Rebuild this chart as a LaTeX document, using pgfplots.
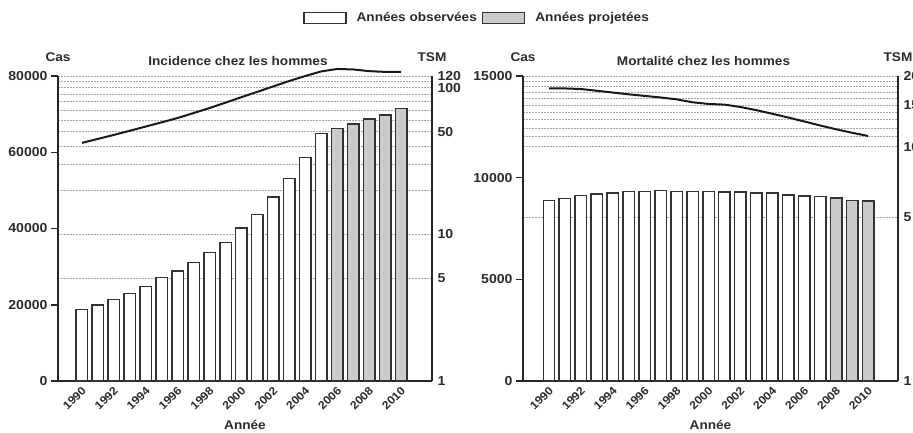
\documentclass[border=0pt]{standalone}
\usepackage{fontspec}
\setmainfont[FakeStretch=1.08]{Liberation Sans}
\usepackage{pgfplots}
\pgfplotsset{compat=1.18}
\definecolor{txt}{HTML}{2B2B2B}
\definecolor{barfill}{HTML}{CBCBCB}
\definecolor{gridc}{HTML}{A8A8A8}
\definecolor{axc}{HTML}{262626}
\newcommand{\lbl}{\bfseries\fontsize{12.6}{14}\selectfont}
\newcommand{\tkl}{\bfseries\fontsize{13}{15}\selectfont}
\newcommand{\xtl}{\bfseries\fontsize{11.3}{13}\selectfont}
\pgfplotsset{
  myBase/.style={scale only axis, height=305pt, clip=false,
    axis line style={line width=2pt, draw=axc},
    scaled y ticks=false, scaled x ticks=false,
    every tick label/.append style={text=txt}},
  myLog/.style={myBase, axis y line*=right, axis x line=none,
    ymajorgrids, yminorgrids,
    major grid style={gridc, dash pattern=on 2pt off 1pt, line width=0.9pt},
    minor grid style={gridc, dash pattern=on 2pt off 1pt, line width=0.9pt},
    ytick style={draw=none}, minor tick style={draw=none},
    yticklabel style={font=\tkl, anchor=west, xshift=2pt}},
  myLin/.style={myBase, axis y line*=left, axis x line*=bottom,
    tick align=outside, major tick length=7pt,
    ytick style={draw=axc, line width=1.5pt}, xtick style={draw=none},
    yticklabel style={font=\tkl},
    xtick={1990,1992,1994,1996,1998,2000,2002,2004,2006,2008,2010},
    xticklabels={1990,1992,1994,1996,1998,2000,2002,2004,2006,2008,2010},
    xticklabel style={font=\xtl, rotate=45, anchor=east, xshift=4.5pt, yshift=-2pt}},
  myObs/.style={ybar, bar width=0.72, bar shift=0pt, fill=white, draw=black!80, line width=1.5pt,
    legend image code/.code={\draw[fill=white, draw=black!80, line width=1.5pt] (0pt,-5.5pt) rectangle (42pt,5.5pt);}},
  myProj/.style={ybar, bar width=0.72, bar shift=0pt, fill=barfill, draw=black!80, line width=1.5pt,
    legend image code/.code={\draw[fill=barfill, draw=black!80, line width=1.5pt] (0pt,-5.5pt) rectangle (42pt,5.5pt);}},
  myTsm/.style={black!90, line width=2pt, line join=round},
}
\begin{document}
\begin{tikzpicture}
% ---------------- Left panel: incidence ----------------
\begin{axis}[ymode=log, myLog, at={(58pt,51pt)}, anchor=south west, width=374pt,
  xmin=1988.5, xmax=2011.94, ymin=1, ymax=120,
  ytick={1,5,10,50,100,120}, yticklabels={1,5,10,50,100,120},
  minor ytick={20,30,40,60,70,80,90,110}]
\addplot[myTsm] coordinates {
(1990,42.0) (1991,44.7) (1992,47.6) (1993,50.8) (1994,54.3) (1995,58.0)
(1996,62.1) (1997,67.1) (1998,72.6) (1999,79.0) (2000,86.1) (2001,93.7)
(2002,102) (2003,111) (2004,120) (2005,129) (2006,134) (2007,133)
(2008,129.5) (2009,128) (2010,128)};
\node[font=\lbl, text=txt, yshift=19pt] at (rel axis cs:0,1) {Cas};
\node[font=\lbl, text=txt, yshift=19pt] at (rel axis cs:1,1) {TSM};
\node[font=\lbl, text=txt, yshift=15.3pt, xshift=-7pt] at (rel axis cs:0.5,1) {Incidence chez les hommes};
\end{axis}
\begin{axis}[myLin, at={(58pt,51pt)}, anchor=south west, width=374pt,
  xmin=1988.5, xmax=2011.94, ymin=0, ymax=80000,
  ytick={0,20000,40000,60000,80000}, yticklabels={0,20000,40000,60000,80000},
  legend style={at={(1.1203,1.19)}, anchor=center, draw=none, fill=none,
    font=\lbl, text=txt, legend columns=2,
    /tikz/every even column/.append style={column sep=3pt},
    /tikz/every odd column/.append style={column sep=8pt}}]
\addplot[myObs] coordinates {
(1990,18800) (1991,19930) (1992,21430) (1993,23000) (1994,24740) (1995,27100)
(1996,28850) (1997,31130) (1998,33750) (1999,36380) (2000,40130) (2001,43720)
(2002,48260) (2003,53170) (2004,58570) (2005,64970)};
\addlegendentry{Années observées}
\addplot[myProj] coordinates {
(2006,66280) (2007,67410) (2008,68720) (2009,69770) (2010,71520)};
\addlegendentry{Années projetées}
\node[font=\lbl, text=txt, yshift=-44pt] at (rel axis cs:0.5,0) {Année};
\end{axis}
% ---------------- Right panel: mortality ----------------
\begin{axis}[ymode=log, myLog, at={(523pt,51pt)}, anchor=south west, width=375pt,
  xmin=1988.37, xmax=2011.88, ymin=1, ymax=20,
  ytick={1,5,10,15,20}, yticklabels={1,5,10,15,20},
  minor ytick={11,12,13,14,16,17,18,19}]
\addplot[myTsm] coordinates {
(1990,17.7) (1991,17.7) (1992,17.6) (1993,17.3) (1994,17.0) (1995,16.7)
(1996,16.45) (1997,16.2) (1998,15.9) (1999,15.45) (2000,15.2) (2001,15.1)
(2002,14.75) (2003,14.3) (2004,13.8) (2005,13.3) (2006,12.8) (2007,12.3)
(2008,11.85) (2009,11.45) (2010,11.1)};
\node[font=\lbl, text=txt, yshift=19pt] at (rel axis cs:0,1) {Cas};
\node[font=\lbl, text=txt, yshift=19pt] at (rel axis cs:1,1) {TSM};
\node[font=\lbl, text=txt, yshift=15.3pt, xshift=-7pt] at (rel axis cs:0.5,1) {Mortalité chez les hommes};
\end{axis}
\begin{axis}[myLin, at={(523pt,51pt)}, anchor=south west, width=375pt,
  xmin=1988.37, xmax=2011.88, ymin=0, ymax=15000,
  ytick={0,5000,10000,15000}, yticklabels={0,5000,10000,15000}]
\addplot[myObs] coordinates {
(1990,8880) (1991,8977) (1992,9125) (1993,9190) (1994,9258) (1995,9308)
(1996,9308) (1997,9357) (1998,9323) (1999,9323) (2000,9323) (2001,9290)
(2002,9290) (2003,9258) (2004,9258) (2005,9141) (2006,9092) (2007,9075)};
\addplot[myProj] coordinates {
(2008,8993) (2009,8880) (2010,8845)};
\node[font=\lbl, text=txt, yshift=-44pt] at (rel axis cs:0.5,0) {Année};
\end{axis}
\pgfresetboundingbox
\useasboundingbox (0,0) rectangle (913pt,432pt);
\end{tikzpicture}
\end{document}
